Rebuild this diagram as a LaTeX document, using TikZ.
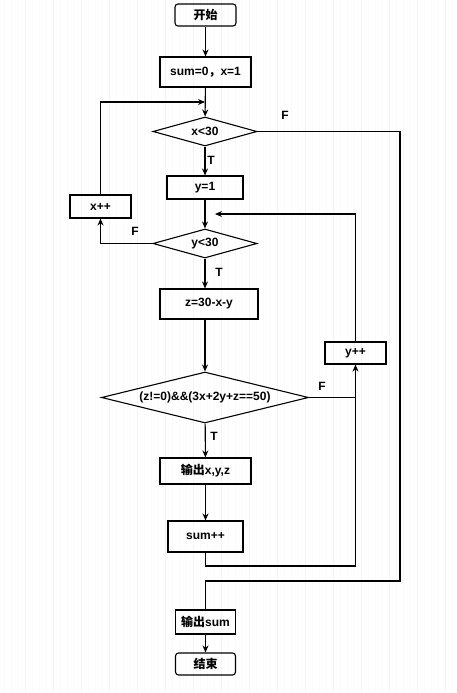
\documentclass[tikz,border=0pt]{standalone}
\usepackage{fontspec}
\setmainfont{Liberation Sans}
\newfontfamily\cjk{Noto Sans CJK SC}
\usetikzlibrary {arrows.meta}
\usetikzlibrary {shapes.geometric}

\begin{document}
\begin{tikzpicture}[x=1pt, y=-1pt, >={Stealth[length=7pt, width=6pt]},
        every node/.style={font=\bfseries\fontsize{12}{14}\selectfont},
        box/.style={draw, line width=1.1pt, inner sep=0pt},
        term/.style={box, rounded corners=3pt},
        cond/.style={draw, line width=1.1pt, diamond, aspect=3.5, inner sep=0pt},
        tag/.style={inner sep=0pt},
        flow/.style={line width=1.1pt}]
    \useasboundingbox (0,0) rectangle (457,693);
    % background grid
    \begin{scope}
        \clip (0,0) rectangle (457,693);
        \draw[gray!4, line width=0.6pt, step=7, shift={(-3,-1)}] (0,0) grid (470,700);
        \draw[gray!9, line width=0.8pt, step=28, shift={(-3,-1)}] (0,0) grid (470,700);
    \end{scope}

    \node[term, minimum width=61pt, minimum height=22pt] (start) at (205.5,15) {\cjk 开始};
    \node[box, minimum width=91pt, minimum height=30pt] (init) at (205.5,72) {sum=0{\cjk ，}x=1};
    \node[cond, minimum width=104pt, minimum height=29pt] (cx) at (205,131.5) {x<30};
    \node[box, minimum width=76pt, minimum height=23pt] (yone) at (205,187.5) {y=1};
    \node[box, minimum width=61pt, minimum height=23pt] (xinc) at (100.5,206.5) {x++};
    \node[cond, minimum width=104pt, minimum height=29pt] (cy) at (205,243.5) {y<30};
    \node[box, minimum width=98pt, minimum height=30pt] (zset) at (209,304) {z=30-x-y};
    \node[box, minimum width=61pt, minimum height=22pt] (yinc) at (355.5,353) {y++};
    \node[cond, minimum width=207pt, minimum height=51pt] (cz) at (205,397.5) {(z!=0)\&\&(3x+2y+z==50)};
    \node[box, minimum width=91pt, minimum height=26pt] (outxyz) at (205.5,471) {{\cjk 输出}x,y,z};
    \node[box, minimum width=75pt, minimum height=31pt] (suminc) at (205.5,536.5) {sum++};
    \node[box, minimum width=60pt, minimum height=24pt] (outsum) at (205.5,622) {{\cjk 输出}sum};
    \node[term, minimum width=60pt, minimum height=22pt] (stop) at (205.5,664) {\cjk 结束};

    \coordinate (xjoin) at (205,102);
    \coordinate (yjoin) at (215,214);
    \coordinate (outer) at (400,581);
    \coordinate (inner) at (355.5,566);

    \node[tag] (fx) at (285,115) {F};
    \node[tag] (tx) at (211,160) {T};
    \node[tag] (fy) at (135,231) {F};
    \node[tag] (ty) at (219,272) {T};
    \node[tag] (fz) at (322,386) {F};
    \node[tag] (tz) at (214,436) {T};

    \draw[flow, ->] (start) -- (init);
    \draw[flow, ->] (init) -- (cx);
    \draw[flow, ->] (cx) -- (yone);
    \draw[flow, ->] (yone) -- (cy);
    \draw[flow, ->] (cy.south) -- (cy.south |- zset.north);
    \draw[flow, ->] (cy.south |- zset.south) -- (cz.north);
    \draw[flow, ->] (cz) -- (outxyz);
    \draw[flow, ->] (outxyz) -- (suminc);
    \draw[flow, ->] (outsum) -- (stop);

    \draw[flow, ->] (cy.west) -| (xinc.south);
    \draw[flow, ->] (xinc.north) |- (xjoin);
    \draw[flow, ->] (yinc.north) |- (yjoin);
    \draw[flow] (cz.east) -- (cz.east -| yinc);
    \draw[flow, ->] (suminc.south) |- (inner) -- (yinc.south);
    \draw[flow] (cx.east) -| (outer) -| (outsum.north);
\end{tikzpicture}
\end{document}
